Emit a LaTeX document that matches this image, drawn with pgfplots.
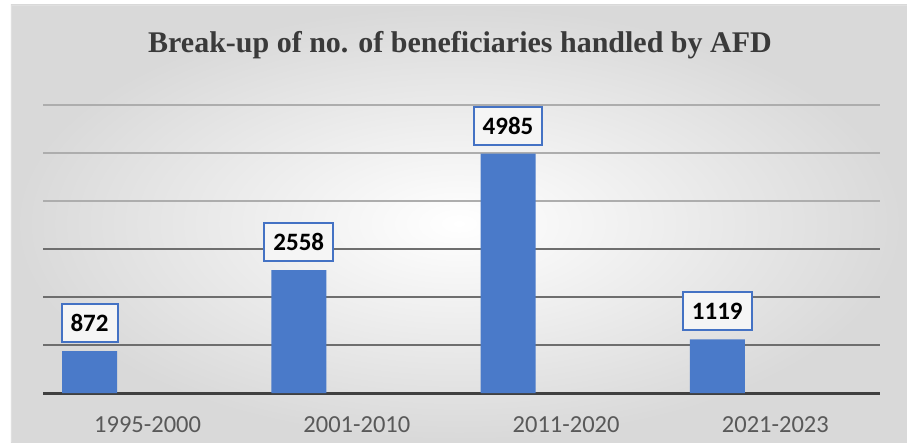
\documentclass[border=0pt]{standalone}
\usepackage{pgfplots}
\pgfplotsset{compat=1.18}
\usepackage{fontspec}
\setmainfont{Carlito}
\newfontfamily\titlefont{Liberation Serif}
\definecolor{barblue}{HTML}{4A7AC9}
\definecolor{boxblue}{HTML}{4472C4}
\definecolor{gridA}{HTML}{6E6E6E}
\definecolor{gridB}{HTML}{ADADAD}
\definecolor{baseline}{HTML}{404040}
\definecolor{ticktext}{HTML}{595959}
\definecolor{titletext}{HTML}{3A3A3A}
\begin{document}
\begin{tikzpicture}
\path[use as bounding box] (-43bp,-51bp) rectangle (864bp,393bp);
\shade[inner color=white, outer color=black!15] (-32bp,-49bp) rectangle (864bp,388bp);
\draw[black!12, line width=0.8bp] (-32bp,-49bp) -- (-32bp,388bp) -- (864bp,388bp);
\node[font=\titlefont\bfseries\fontsize{30bp}{33bp}\selectfont, text=titletext] at (417bp,348bp) {Break-up of no. of beneficiaries handled by AFD};
\begin{axis}[
  at={(0,0)}, anchor=south west,
  width=837bp, height=288bp, scale only axis,
  xmin=-0.5, xmax=3.5, ymin=0, ymax=6000,
  axis x line*=bottom,
  axis y line*=left,
  y axis line style={draw=none},
  ytick style={draw=none},
  x axis line style={draw=baseline, line width=3bp, -},
  xtick={0,1,2,3},
  xticklabels={1995-2000,2001-2010,2011-2020,2021-2023},
  xtick style={draw=none},
  xticklabel style={font=\fontsize{24.5bp}{28bp}\selectfont, text=ticktext, yshift=-16bp},
  ytick={1000,2000,3000},
  extra y ticks={4000,5000,6000},
  extra y tick labels={},
  extra y tick style={grid style={draw=gridB, line width=1.3bp}, tick style={draw=none}},
  yticklabels={},
  ymajorgrids,
  grid style={draw=gridA, line width=1.3bp},
  /pgf/number format/assume math mode=true,
  /pgf/number format/1000 sep={},
  ybar, bar width=0.263, bar shift=-0.2775,
  nodes near coords,
  nodes near coords style={font=\bfseries\fontsize{25bp}{28bp}\selectfont, text=black,
    draw=boxblue, line width=2bp, fill=white!92!gray, inner xsep=9bp,
    minimum height=38bp, anchor=south, yshift=8bp},
  clip=false,
]
\addplot[fill=barblue, draw=none] coordinates {(0,872) (1,2558) (2,4985) (3,1119)};
\end{axis}
\end{tikzpicture}
\end{document}
